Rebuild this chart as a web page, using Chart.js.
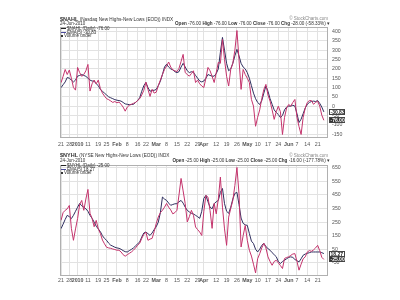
<!DOCTYPE html>
<html>
<head>
<meta charset="utf-8">
<script src="https://cdn.jsdelivr.net/npm/chart.js@4.4.0/dist/chart.umd.min.js"></script>
<style>
body { margin:0; width:400px; height:300px; position:relative; overflow:hidden; background:#fff; font-family:"Liberation Sans", Arial, sans-serif; }
canvas { position:absolute; left:0; }
.t { position:absolute; white-space:nowrap; line-height:1; color:#333; font-size:4.7px; }
.r { text-align:right; }
.sw { display:inline-block; width:5px; height:1px; vertical-align:middle; margin-right:1px; }
.sq { display:inline-block; width:2px; height:2px; background:#333; vertical-align:middle; margin-right:1px; }
</style>
</head>
<body>
<canvas id="nahlChart" width="400" height="150" style="top:0"></canvas>
<canvas id="nyhlChart" width="400" height="150" style="top:150px"></canvas>

<div class="t" style="left:60px;top:16.5px"><b style="font-size:5.5px">$NAHL</b> (Nasdaq New Highs-New Lows (EOD)) INDX</div>
<div class="t" style="left:60px;top:22px;font-size:4.5px">24-Jun-2010</div>
<div class="t" style="left:61px;top:26.5px;font-size:4.5px"><span class="sw" style="background:#222"></span>$NAHL (Daily) -76.00</div>
<div class="t" style="left:61px;top:30.5px;font-size:4.5px"><span class="sw" style="background:#4a4a9a"></span>EMA(5) -30.83</div>
<div class="t" style="left:61px;top:34px;font-size:4.5px"><span class="sq"></span>Volume undef</div>
<div class="t r" style="right:72px;top:17px;color:#888;font-size:4.5px">© StockCharts.com</div>
<div class="t r" style="right:70px;top:22px;font-size:4.6px"><b>Open</b> -76.00 <b>High</b> -76.00 <b>Low</b> -76.00 <b>Close</b> -76.00 <b>Chg</b> -28.00 (-58.33%) ▾</div>

<div class="t" style="left:60px;top:153px"><b style="font-size:5.5px">$NYHL</b> (NYSE New Highs-New Lows (EOD)) INDX</div>
<div class="t" style="left:60px;top:158.5px;font-size:4.5px">24-Jun-2010</div>
<div class="t" style="left:61px;top:163.5px;font-size:4.5px"><span class="sw" style="background:#222"></span>$NYHL (Daily) -25.00</div>
<div class="t" style="left:61px;top:167.5px;font-size:4.5px"><span class="sw" style="background:#4a4a9a"></span>EMA(5) 18.27</div>
<div class="t" style="left:61px;top:171px;font-size:4.5px"><span class="sq"></span>Volume undef</div>
<div class="t r" style="right:72px;top:153.5px;color:#888;font-size:4.5px">© StockCharts.com</div>
<div class="t r" style="right:70px;top:159px;font-size:4.6px"><b>Open</b> -25.00 <b>High</b> -25.00 <b>Low</b> -25.00 <b>Close</b> -25.00 <b>Chg</b> -16.00 (-177.78%) ▾</div>

<script>
// trading days, 21-Dec-2009 .. 24-Jun-2010
const monthDays = [
    ['Dec', [21,22,23,24,28,29,30,31]],
    ['Jan', [4,5,6,7,8,11,12,13,14,15,19,20,21,22,25,26,27,28,29]],
    ['Feb', [1,2,3,4,5,8,9,10,11,12,16,17,18,19,22,23,24,25,26]],
    ['Mar', [1,2,3,4,5,8,9,10,11,12,15,16,17,18,19,22,23,24,25,26,29,30,31]],
    ['Apr', [1,5,6,7,8,9,12,13,14,15,16,19,20,21,22,23,26,27,28,29,30]],
    ['May', [3,4,5,6,7,10,11,12,13,14,17,18,19,20,21,24,25,26,27,28]],
    ['Jun', [1,2,3,4,7,8,9,10,11,14,15,16,17,18,21,22,23,24]]
];
const tradingDays = [];
monthDays.forEach(([m, days]) => days.forEach(d => tradingDays.push(m + ' ' + d)));

const tickDays = ['Dec 21','Dec 28','Jan 4','Jan 11','Jan 19','Jan 25','Feb 1','Feb 8','Feb 16','Feb 22',
    'Mar 1','Mar 8','Mar 15','Mar 22','Mar 29','Apr 1','Apr 12','Apr 19','Apr 26',
    'May 3','May 10','May 17','May 24','Jun 1','Jun 7','Jun 14','Jun 21'];
const tickText = ['21','28','2010','11','19','25','Feb','8','16','22',
    'Mar','8','15','22','29','Apr','12','19','26',
    'May','10','17','24','Jun','7','14','21'];
const boldTicks = ['2010','Feb','Mar','Apr','May','Jun'];

const nahlTicks = [400,350,300,250,200,150,100,50,0,-50,-100,-150];
const nyhlTicks = [650,600,550,500,450,400,350,300,250,200,150,100,50,0,-50,-100];

// $NAHL daily
const nahlDaily = [
    126,160,197,170,194,150,100,86,208,180,
    160,170,190,224,81,120,140,120,140,95,
    70,54,40,35,28,20,25,18,22,10,
    -5,-27,-5,5,10,15,20,30,40,60,
    85,129,90,52,90,70,75,110,140,170,
    197,215,237,210,195,190,185,203,240,278,
    180,170,161,175,190,127,140,120,108,100,
    150,208,190,160,127,180,235,230,358,250,
    160,108,197,230,300,406,250,90,197,170,
    150,127,36,0,-108,-60,-20,40,90,117,
    60,27,-20,-71,-30,0,-30,-152,-60,-10,
    9,0,20,36,-60,-110,-152,-60,-10,20,
    30,30,10,20,27,0,-48,-76
];
const nahlEma = [
    99,115,130,154,150,140,130,140,161,165,
    170,165,160,150,140,135,134,120,110,90,
    80,70,60,50,45,40,35,32,30,27,
    20,12,10,8,9,10,20,30,45,80,
    110,127,100,80,85,85,90,110,134,170,
    210,225,210,200,195,185,180,185,210,230,
    210,190,180,185,181,165,150,135,130,135,
    150,170,165,161,161,175,200,290,369,300,
    230,190,200,230,270,305,270,230,210,200,
    180,150,110,70,40,20,9,30,70,108,
    80,40,10,-20,-34,-45,-61,-50,-20,-5,
    0,0,5,0,-40,-88,-70,-40,-10,10,
    20,25,27,25,30,15,-5,-30.83
];

// $NYHL daily
const nyhlDaily = [
    263,320,337,348,373,204,116,200,276,380,
    410,337,420,491,315,278,216,263,200,167,
    118,90,65,60,57,52,48,43,43,30,
    10,-1,10,20,30,43,60,80,94,130,
    160,177,116,125,130,180,240,288,320,337,
    360,388,360,340,311,320,337,450,572,480,
    386,251,290,337,300,214,195,177,152,330,
    447,434,336,204,388,311,420,582,360,200,
    79,287,350,409,520,653,459,67,150,226,
    116,43,0,-60,-124,-20,18,60,94,60,
    -6,-40,-68,-40,-31,-50,-70,-92,-18,-10,
    -6,5,15,18,-40,-104,-60,-20,-6,30,
    40,35,45,60,79,40,-9,-25
];
const nyhlEma = [
    202,235,270,300,290,276,300,330,360,388,
    370,360,348,330,300,278,250,220,200,180,
    150,130,116,95,80,73,65,60,57,50,
    40,32,30,40,49,60,75,90,103,140,
    170,177,165,152,170,195,216,250,320,435,
    420,410,390,374,380,385,386,400,410,390,
    360,337,325,315,310,300,290,278,330,425,
    447,400,360,348,386,400,410,470,498,386,
    330,315,360,420,462,469,380,280,241,230,
    226,167,110,92,50,30,50,79,94,70,
    55,43,25,10,-5,-40,-55,-40,-31,-20,
    -10,-6,-10,-25,-35,-43,-20,6,15,20,
    25,30,30,30,30,30,25,18.27
];

const PINK = '#c4336c';
const NAVY = '#2e2e5e';
const tickIdx = tickDays.map(d => tradingDays.indexOf(d));

// value tags on the right axis + outer frame
const framePlugin = {
    id: 'frame',
    afterDraw(chart, args, opts) {
        const {ctx, chartArea: a, scales} = chart;
        ctx.save();
        ctx.strokeStyle = '#b0b0b0';
        ctx.lineWidth = 1;
        ctx.strokeRect(a.left + 0.5, a.top + 0.5, a.right - a.left - 1, a.bottom - a.top - 1);
        ctx.font = 'bold 5px "Liberation Sans", Arial';
        ctx.textBaseline = 'middle';
        opts.tags.forEach(t => {
            const y = Math.round(scales.y.getPixelForValue(t.value));
            ctx.fillStyle = t.fill;
            ctx.fillRect(a.right + 1, y - 3, 16, 6);
            ctx.strokeStyle = '#444';
            ctx.strokeRect(a.right + 1.5, y - 2.5, 15, 5);
            ctx.fillStyle = t.color;
            ctx.fillText(t.text, a.right + 2.5, y + 0.3);
        });
        ctx.restore();
    }
};

function makePanel(id, daily, ema, yTicks, yMin, yMax, padTop, axisH, tickPad, tags) {
    return new Chart(document.getElementById(id), {
        type: 'line',
        data: {
            datasets: [
                { label: 'Daily', data: daily.map((v, i) => ({x: i, y: v})), borderColor: PINK, borderWidth: 1, pointRadius: 0, tension: 0 },
                { label: 'EMA(5)', data: ema.map((v, i) => ({x: i, y: v})), borderColor: NAVY, borderWidth: 1, pointRadius: 0, tension: 0 }
            ]
        },
        options: {
            responsive: false,
            animation: false,
            layout: { padding: { left: 60, top: padTop, right: 0, bottom: 0 } },
            plugins: { legend: { display: false }, tooltip: { enabled: false }, frame: { tags: tags } },
            scales: {
                x: {
                    type: 'linear', min: -0.5, max: 129,
                    afterBuildTicks: s => { s.ticks = tickIdx.map(v => ({value: v})); },
                    afterFit: s => { s.height = axisH; },
                    grid: { color: '#e2e2e2', drawTicks: false },
                    border: { display: false },
                    ticks: {
                        autoSkip: false, maxRotation: 0, padding: tickPad, color: '#555',
                        font: ctx => ({ family: '"Liberation Sans", Arial', size: 5.3, weight: boldTicks.includes(tickText[ctx.index]) ? 'bold' : 'normal' }),
                        callback: (v, i) => tickText[i]
                    }
                },
                y: {
                    position: 'right', min: yMin, max: yMax,
                    afterBuildTicks: s => { s.ticks = yTicks.map(v => ({value: v})); },
                    afterFit: s => { s.width = 72; },
                    grid: { color: '#e2e2e2', drawTicks: false },
                    border: { display: false },
                    ticks: { padding: 4, color: '#555', font: { family: '"Liberation Sans", Arial', size: 5.2 } }
                }
            }
        },
        plugins: [framePlugin]
    });
}

makePanel('nahlChart', nahlDaily, nahlEma, nahlTicks, -171, 425, 27, 12, 3, [
    { value: -30.83, text: '-30.83', fill: '#fff', color: '#222' },
    { value: -76, text: '-76.00', fill: '#333', color: '#fff' }
]);
makePanel('nyhlChart', nyhlDaily, nyhlEma, nyhlTicks, -147, 671, 15, 24, 1, [
    { value: 18.27, text: '18.27', fill: '#fff', color: '#222' },
    { value: -25, text: '-25.00', fill: '#333', color: '#fff' }
]);
</script>
</body>
</html>
